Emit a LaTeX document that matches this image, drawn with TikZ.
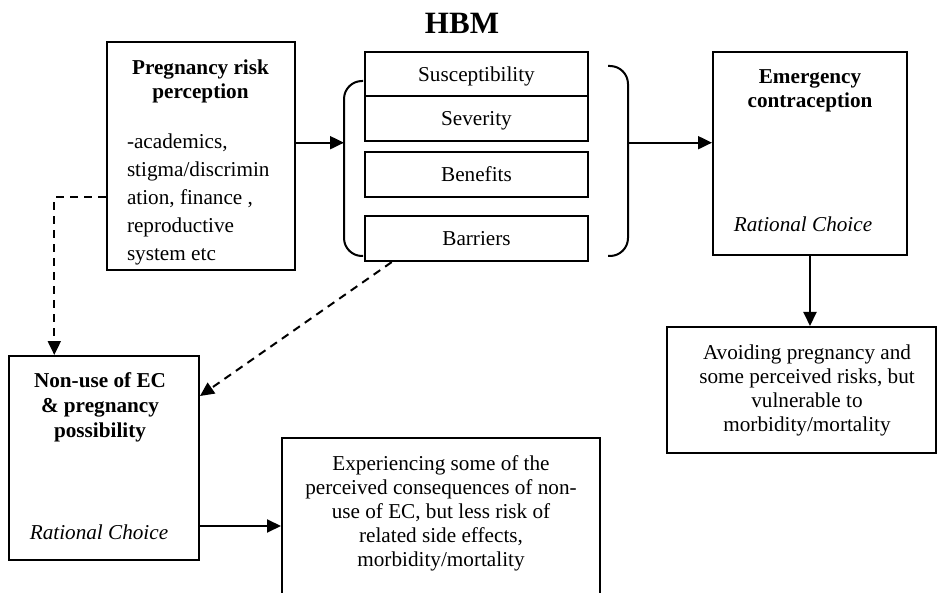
\documentclass[tikz,border=0pt]{standalone}
\usepackage{fontspec}
\setmainfont{Liberation Serif}
\usetikzlibrary{arrows.meta,positioning}

\begin{document}
\begin{tikzpicture}[x=0.5pt, y=-0.5pt, line width=1pt, -{Triangle[length=7pt,width=6.5pt]},
      every node/.append style={font=\fontsize{10.6}{12}\selectfont,align=center,inner sep=0pt},
      box/.style={draw,-},
      title/.style={font=\fontsize{10.6}{12}\selectfont\bfseries},
      choice/.style={font=\fontsize{10.6}{12}\selectfont\itshape},
      link/.style={dash pattern=on 4pt off 3pt}]
    \tikzstyle{word} = [font=\fontsize{10.6}{12}\selectfont]
    \tikzstyle{hbm} = [word, box, minimum width=111.8pt, text depth=0pt]
    \path[use as bounding box, clip] (0,0) rectangle (937,593);
    % heading
    \node (HBM) [font=\fontsize{15.5}{18}\selectfont\bfseries] at (462,23) {HBM};
    % risk perception
    \node (preg) [box, minimum width=94pt, minimum height=114pt] at (200.5,156) {};
    \node (pregT) [title] at (200.5,81) {Pregnancy risk\\perception};
    \node (pregL) [word, align=left, anchor=north west, font=\fontsize{10.6}{14}\selectfont] at (126,133)
      {-academics,\\stigma/discrimin\\ation, finance ,\\reproductive\\system etc};
    % HBM constructs
    \node (susc) [hbm, minimum height=21.8pt] at (476.5,74) {Susceptibility};
    \node (sev) [hbm, minimum height=22.5pt] at (476.5,118.2) {Severity};
    \node (ben) [hbm, minimum height=22.5pt] at (476.5,174.2) {Benefits};
    \node (barr) [hbm, minimum height=22.7pt] at (476.5,238.4) {Barriers};
    \draw[-, rounded corners=9pt] (363,81) -- (344,81) -- (344,256) -- (363,256);
    \draw[-, rounded corners=9pt] (608,66) -- (628,66) -- (628,256) -- (608,256);
    \coordinate (lbr) at (344,142.7);
    \coordinate (rbr) at (628,142.7);
    % emergency contraception
    \node (emerg) [box, minimum width=97pt, minimum height=101.5pt] at (810,153.5) {};
    \node (emergT) [title] at (810,91) {Emergency\\contraception};
    \node (emergC) [choice] at (803,224) {Rational Choice};
    \node (avoid) [word, box, minimum width=134.5pt, minimum height=63pt] at (801.5,390) {};
    \node (avoidT) [word] at (807,390.5) {Avoiding pregnancy and\\some perceived risks, but\\vulnerable to\\morbidity/mortality};
    % non-use
    \node (non) [box, minimum width=95pt, minimum height=102pt] at (104,458) {};
    \node (nonT) [title, font=\fontsize{10.6}{12.5}\selectfont\bfseries] at (100,407) {Non-use of EC\\\& pregnancy\\possibility};
    \node (nonC) [choice] at (99,532) {Rational Choice};
    \node (exper) [word, box, minimum width=159pt, minimum height=86pt] at (441,524) {};
    \node (experT) [word] at (441,513.5) {Experiencing some of the\\perceived consequences of non-\\use of EC, but less risk of\\related side effects,\\morbidity/mortality};
    \coordinate (pk) at (54.3,197.3);
    \coordinate (ne) at (0,526);
    % connectors
    \draw (preg.east |- lbr) -- (lbr);
    \draw (rbr) -- (rbr -| emerg.west);
    \draw (emerg.south) -- (emerg.south |- avoid.north);
    \draw[link] (pk -| preg.west) -- (pk) -- (pk |- non.north);
    \draw[link] ([xshift=14pt]barr.south west) -- ([yshift=-20.5pt]non.north east);
    \draw (non.east |- ne) -- (ne -| exper.west);
\end{tikzpicture}
\end{document}
